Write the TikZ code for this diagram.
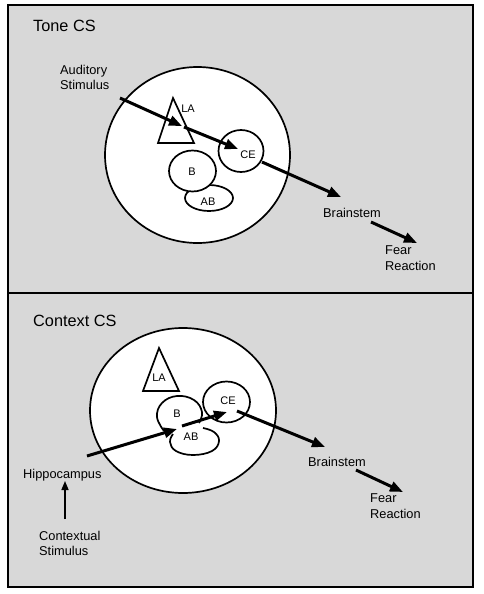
\documentclass[tikz,border=0pt]{standalone}
\usepackage{fontspec}
\setmainfont{Liberation Sans}
\usetikzlibrary{shapes.geometric,arrows.meta}
\definecolor{panel}{RGB}{216,216,216}
\begin{document}
\begin{tikzpicture}[x=1pt,y=-1pt,
  lbl/.style={font=\fontsize{12.8}{15}\selectfont, align=left, inner sep=0, anchor=west},
  ttl/.style={font=\fontsize{16.3}{19}\selectfont, inner sep=0, anchor=west},
  small/.style={font=\fontsize{11}{12}\selectfont, inner sep=0},
  region/.style={draw, line width=1.7pt, fill=white, ellipse, inner sep=0},
  tri/.style={draw, line width=1.7pt, fill=white},
  conn/.style={line width=3pt, -{Triangle[length=13pt,width=10pt]}},
  thin conn/.style={line width=1.5pt, -{Triangle[length=9pt,width=7pt]}},
  open/.style={line width=1.7pt},
]
\useasboundingbox (0,0) rectangle (484,594);
\fill[white] (0,0) rectangle (484,594);
% frame
\draw[line width=2pt, fill=panel] (8,5) rectangle (473,587);
\draw[line width=2pt] (8,293) -- (473,293);

% ---------------- Tone CS ----------------
\node[ttl] (t1) at (33,26) {Tone CS};
\node[region, minimum width=185pt, minimum height=176pt] (amyT) at (197.5,155) {};
\draw[tri] (173,98) -- (194,143) -- (158,143) -- cycle;
\node[small] (laT) at (188,109) {LA};
\node[region, minimum width=48pt, minimum height=26pt] (abT) at (209,198) {};
\node[region, minimum width=47pt, minimum height=41pt] (bT) at (192.5,171) {};
\node[region, minimum width=45pt, minimum height=42pt] (ceT) at (241,151) {};
\node[small] (bTl) at (192,172) {B};
\node[small] (abTl) at (208,202) {AB};
\node[small] (ceTl) at (248,155) {CE};
\node[lbl] (aud) at (60,77.5) {Auditory\\Stimulus};
\node[lbl] (bsT) at (323,213) {Brainstem};
\node[lbl, font=\fontsize{12.8}{16}\selectfont] (frT) at (385,258) {Fear\\Reaction};
\coordinate (a1s) at (120,98);
\coordinate (a1e) at (182,126);
\coordinate (a2s) at (184,127);
\coordinate (a2e) at (238,149);
\coordinate (a3s) at (262,162);
\coordinate (a3e) at (341,197);
\coordinate (a4s) at (371,222);
\coordinate (a4e) at (417,243);
\draw[conn] (a1s) -- (a1e);
\draw[conn] (a2s) -- (a2e);
\draw[conn] (a3s) -- (a3e);
\draw[conn] (a4s) -- (a4e);

% ---------------- Context CS ----------------
\node[ttl] (t2) at (33,321) {Context CS};
\node[region, minimum width=186pt, minimum height=165pt] (amyC) at (183,410.5) {};
\draw[tri] (159,348) -- (179,391) -- (143,391) -- cycle;
\node[small] (laC) at (159,378) {LA};
\node[region, minimum width=47pt, minimum height=41pt] (ceC) at (226.5,402) {};
\node[small] (ceCl) at (228,401) {CE};
\draw[open] plot[smooth, tension=0.7] coordinates {(164,431) (157,417) (162,403) (177,396) (194,400) (202,412) (199,423)};
\draw[open] plot[smooth, tension=0.7] coordinates {(203,428) (214,432) (219,441) (212,451) (193,455) (176,451) (170,442) (173,434)};
\node[small] (bCl) at (177,414) {B};
\node[small] (abCl) at (191,437) {AB};
\node[lbl] (hip) at (23,475) {Hippocampus};
\node[lbl] (ctx) at (39,543.5) {Contextual\\Stimulus};
\node[lbl] (bsC) at (308,462) {Brainstem};
\node[lbl, font=\fontsize{12.8}{16}\selectfont] (frC) at (370,506.5) {Fear\\Reaction};
\coordinate (c0s) at (65,519);
\coordinate (c0e) at (65,481);
\coordinate (c1s) at (87,456);
\coordinate (c1e) at (177,429);
\coordinate (c2s) at (182,426);
\coordinate (c2e) at (227,412);
\coordinate (c3s) at (237,411);
\coordinate (c3e) at (325,447);
\coordinate (c4s) at (356,470);
\coordinate (c4e) at (403,492);
\draw[thin conn] (c0s) -- (c0e);
\draw[conn] (c1s) -- (c1e);
\draw[conn] (c2s) -- (c2e);
\draw[conn] (c3s) -- (c3e);
\draw[conn] (c4s) -- (c4e);
\end{tikzpicture}
\end{document}
